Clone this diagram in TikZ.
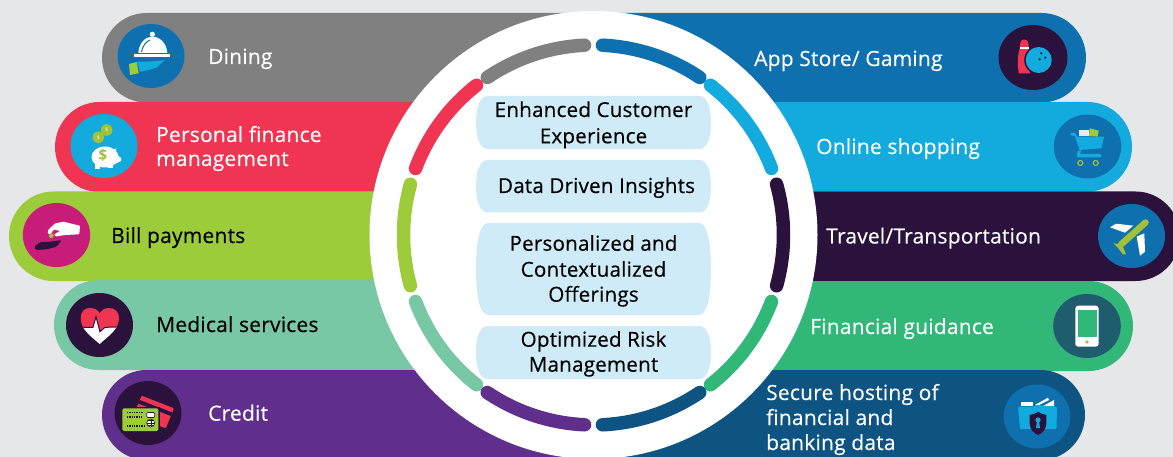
\documentclass[tikz,border=0pt]{standalone}
\usepackage{fontspec}
\setmainfont{Open Sans}
\definecolor{bgc}{HTML}{E6E7E9}
\definecolor{cgray}{HTML}{808080}
\definecolor{cpink}{HTML}{F03552}
\definecolor{clime}{HTML}{9DCC3B}
\definecolor{cteal}{HTML}{78C7A5}
\definecolor{cpurple}{HTML}{602F8C}
\definecolor{cblue}{HTML}{0F70AF}
\definecolor{csky}{HTML}{13ABDE}
\definecolor{cdark}{HTML}{2A123D}
\definecolor{cgreen}{HTML}{31B878}
\definecolor{cnavy}{HTML}{0E5482}
\definecolor{cmag}{HTML}{C91C7A}
\definecolor{cpill}{HTML}{CEEBF7}
\definecolor{cphone}{HTML}{1F5C6E}
\definecolor{colive}{HTML}{A3C03A}
\tikzset{
  lab/.style={anchor=base west,font=\fontsize{21}{24}\selectfont\addfontfeature{LetterSpace=1,FakeBold=0.3},inner sep=0pt},
  mid/.style={anchor=base,font=\fontsize{20.6}{24}\selectfont\addfontfeature{LetterSpace=1,FakeBold=0.3},inner sep=0pt,text=black},
  seg/.style={line width=13.5pt,line cap=round}
}
\newcommand{\leftbar}[4]{\fill[#4] (593,#2) -- (#1+44.5,#2) arc[start angle=90,end angle=270,x radius=44.5,y radius={-(#3-#2)/2}] -- (593,#3) -- cycle;}
\newcommand{\rightbar}[4]{\fill[#4] (593,#2) -- (#1-44.5,#2) arc[start angle=90,end angle=-90,x radius=44.5,y radius={-(#3-#2)/2}] -- (593,#3) -- cycle;}
\newcommand{\pillshape}[2]{\fill[cpill] (488,#1) -- (699,#1) .. controls (707,#1) and (711,{(#1+#2)/2-(#2-#1)*.3}) .. (711,{(#1+#2)/2}) .. controls (711,{(#1+#2)/2+(#2-#1)*.3}) and (707,#2) .. (699,#2) -- (488,#2) .. controls (480,#2) and (476,{(#1+#2)/2+(#2-#1)*.3}) .. (476,{(#1+#2)/2}) .. controls (476,{(#1+#2)/2-(#2-#1)*.3}) and (480,#1) .. (488,#1) -- cycle;}
\newcommand{\ringseg}[3]{\draw[seg,#3] (593.5,235)++(#1:190 and -190) arc[start angle=#1,end angle=#2,x radius=190,y radius=-190];}
\begin{document}
\begin{tikzpicture}[x=1pt,y=-1pt]
\clip (0,0) rectangle (1173,457);
\fill[bgc] (0,0) rectangle (1173,457);
% bars
\leftbar{102}{13}{102.5}{cgray}
\rightbar{1086}{13}{102.5}{cblue}
\leftbar{55}{102}{192}{cpink}
\rightbar{1132}{102}{191.5}{csky}
\leftbar{9}{191.5}{281}{clime}
\rightbar{1180}{191.5}{281}{cdark}
\leftbar{54}{280}{370}{cteal}
\rightbar{1133}{281}{371}{cgreen}
\leftbar{102}{370}{460}{cpurple}
\rightbar{1085}{370}{460}{cnavy}
% centre disc
\fill[white] (593.5,235) circle[radius=224];
% ring segments
\ringseg{92.7}{124}{cgray}
\ringseg{128}{159.5}{cpink}
\ringseg{164.5}{195.5}{clime}
\ringseg{200.5}{232}{cteal}
\ringseg{236}{267.3}{cpurple}
\ringseg{87.3}{56}{cblue}
\ringseg{52}{20.5}{csky}
\ringseg{15.5}{-15.5}{cdark}
\ringseg{-20.5}{-52}{cgreen}
\ringseg{-56}{-87.3}{cnavy}
% pills
\pillshape{96}{149}
\pillshape{160}{212.5}
\pillshape{223}{315}
\pillshape{326}{379}
% centre labels
\node[mid] (m1a) at (593.5,117) {Enhanced Customer};
\node[mid] (m1b) at (593.5,143.3) {Experience};
\node[mid] (m2) at (596.5,193) {Data Driven Insights};
\node[mid] (m3a) at (593.5,250.7) {Personalized and};
\node[mid] (m3b) at (593.5,276.7) {Contextualized};
\node[mid] (m3c) at (593.5,301.7) {Offerings};
\node[mid] (m4a) at (593.5,346.7) {Optimized Risk};
\node[mid] (m4b) at (593.5,371.7) {Management};
% side labels
\node[lab,text=white] (l1) at (208,64) {Dining};
\node[lab,text=white] (l2a) at (156,142) {Personal finance};
\node[lab,text=white] (l2b) at (156,166) {management};
\node[lab,text=black] (l3) at (111,243) {Bill payments};
\node[lab,text=black] (l4) at (156,332) {Medical services};
\node[lab,text=white] (l5) at (208,420.7) {Credit};
\node[lab,text=white] (r1) at (754,66) {App Store/ Gaming};
\node[lab,text=white] (r2) at (816,154) {Online shopping};
\node[lab,text=white] (r3) at (826,243.5) {Travel/Transportation};
\node[lab,text=white] (r4) at (810,334) {Financial guidance};
\node[lab,text=white] (r5a) at (766,400) {Secure hosting of};
\node[lab,text=white] (r5b) at (766,425) {financial and};
\node[lab,text=white] (r5c) at (766,450) {banking data};
% --- icon discs
\fill[cblue] (151,56) ellipse[x radius=33.5,y radius=32];
\fill[csky] (104,146) ellipse[x radius=33.5,y radius=32];
\fill[cmag] (56.5,235) ellipse[x radius=33.7,y radius=32];
\fill[cdark] (99.5,325) ellipse[x radius=33.5,y radius=32];
\fill[cdark] (148,413) ellipse[x radius=33.5,y radius=32];
\fill[cdark] (1033,57.5) ellipse[x radius=34.5,y radius=32.5];
\fill[cblue] (1087.5,146.5) ellipse[x radius=33.7,y radius=32];
\fill[cblue] (1131.5,236) ellipse[x radius=33.5,y radius=32];
\fill[cphone] (1087,326) ellipse[x radius=33.8,y radius=32];
\fill[cblue] (1037,416.5) ellipse[x radius=33.3,y radius=32];
% dining
\fill[white] (138.3,53) .. controls (139,43) and (145,37) .. (152.3,36.5) .. controls (160,37) and (166.5,43) .. (167.3,53) -- cycle;
\fill[white] (152.3,34.3) circle[radius=2.6];
\draw[cblue,line width=1pt] (141.5,52) .. controls (142.5,46) and (146,41.5) .. (150,40);
\fill[white] (134,54.3) rectangle (170,57.4);
\fill[csky] (137,61.7) -- (150,61.5) -- (164.5,60.3) -- (157,67.5) -- (149,70) -- (140,71.7) -- cycle;
\fill[clime] (129,64) -- (136.7,62) -- (138.7,73.3) -- (130,75) -- cycle;
% piggy
\fill[colive] (106.7,130) circle[radius=5.8];
\fill[colive] (98.3,137.3) circle[radius=5.8];
\node[text=white,inner sep=0pt,font=\fontsize{5}{5}\selectfont] (c1) at (106.7,130) {\$};
\node[text=white,inner sep=0pt,font=\fontsize{5}{5}\selectfont] (c2) at (98.3,137.3) {\$};
\fill[white] (105,157) ellipse[x radius=13.5,y radius=10.5];
\fill[white] (112,151) -- (116,148.5) -- (116,154) -- (121,158) -- (121,161) -- (115,164) -- cycle;
\fill[white] (95,163) rectangle (100,169);
\fill[white] (108,163) rectangle (113,168);
\node[text=colive,inner sep=0pt,font=\fontsize{15}{15}\selectfont\bfseries] (c3) at (103,155.5) {\$};
% bill hands
\fill[white,rounded corners=.8pt] (80,225.7) -- (79.3,234.3) -- (65,235) -- (56,236.5) -- (54,234.5) -- (60,231) -- (54,229.5) -- (50,234.5) -- (47.5,233) -- (48.5,229.5) -- (55,223.5) -- (63.3,221.7) -- cycle;
\fill[colive] (51.3,235.7) circle[radius=2.5];
\fill[cdark,rounded corners=1.5pt] (34,246.7) -- (40,242.3) -- (50,241.7) -- (61.7,240) -- (56.7,246.7) -- (46.7,249.3) -- (36,250) -- cycle;
% heart
\begin{scope}
\clip (99.7,344) .. controls (92,337) and (80.7,330) .. (80.7,318) .. controls (80.7,311) and (85,308) .. (90,308) .. controls (94.5,308) and (98,310) .. (99.7,313.5) .. controls (101.5,310) and (105,308) .. (109,308) .. controls (115,308) and (119,312) .. (119,318) .. controls (119,330) and (107,337) .. (99.7,344) -- cycle;
\fill[cpink] (75,300) rectangle (125,330);
\fill[white] (75,327.3) -- (93,327.3) -- (96,316.7) -- (100,331.7) -- (105,327.3) -- (125,327) -- (125,350) -- (75,350) -- cycle;
\draw[cdark,line width=1pt] (75,327.3) -- (93,327.3) -- (96,316.7) -- (100,331.7) -- (105,327.3) -- (125,327);
\end{scope}
% credit cards
\fill[cpink,rounded corners=1pt] (141.7,395.7) -- (174,408.3) -- (165.7,428.3) -- (133.3,415.7) -- cycle;
\fill[cdark] (139.7,400) -- (172.5,412.5) -- (171,416) -- (138.2,403.5) -- cycle;
\fill[cdark] (120.5,406.5) rectangle (160,433);
\fill[clime,rounded corners=1.5pt] (122.3,408.3) rectangle (158.3,431);
\draw[cdark,line width=1.2pt,dash pattern=on 1pt off .7pt] (127,412.7) -- (144,412.7) (127,417) -- (142,417) (127,426) -- (145,426);
\fill[white,draw=cdark,line width=.6pt,rounded corners=1pt] (146.7,412.5) rectangle (154.7,417.5);
\fill[white,draw=cdark,line width=.6pt] (150.7,423) circle[radius=4];
\draw[cdark,line width=.4pt] (146.7,423) -- (154.7,423) (150.7,419) -- (150.7,427) (148,420.5) -- (153.5,420.5) (148,425.5) -- (153.5,425.5);
% bowling
\fill[cpink] (1024,39.3) .. controls (1027,39.3) and (1028.5,41.5) .. (1028.5,45) .. controls (1028.5,50) and (1030,53) .. (1030,57) -- (1030,73.5) -- (1019,73.5) .. controls (1017,65) and (1017.5,55) .. (1019.7,49) .. controls (1020,45) and (1020,39.3) .. (1024,39.3) -- cycle;
\fill[white] (1019.5,47.5) rectangle (1028.5,49);
\fill[cdark] (1038.7,60) circle[radius=14.5];
\fill[csky] (1038.7,60) circle[radius=13];
\fill[cdark] (1041.3,53.3) circle[radius=1.2] (1039.7,59.3) circle[radius=1.2] (1045.3,57.7) circle[radius=1.2];
% cart
\fill[white!92!black] (1079,130.5) rectangle (1089,136);
\fill[clime] (1089.7,128.3) -- (1098.7,130.7) -- (1097.7,136.7) -- (1089,136) -- cycle;
\fill[csky] (1070.7,133) -- (1075,133) -- (1077,136.5) -- (1104,136.7) -- (1101.5,148.3) -- (1079.5,150) -- (1075,136) -- (1070.7,135) -- cycle;
\fill[csky,rounded corners=1pt] (1079.5,150) -- (1082,151) -- (1079,154) -- (1101,154) -- (1101,157.5) -- (1077,157.5) -- (1077,152) -- cycle;
\draw[colive,line width=1.2pt] (1080.3,163) circle[radius=2.5] (1095.7,163) circle[radius=2.5];
% plane
\fill[white] (1110,227.3) -- (1116,223.7) -- (1133.3,225.7) -- (1125,232.7) -- cycle;
\fill[white] (1136.7,236.7) -- (1144.3,233.3) -- (1145,251.7) -- (1140,255.7) -- cycle;
\draw[colive,line width=6.5pt,line cap=round] (1145.5,222.5) -- (1121,244.5);
\fill[colive] (1113.3,243.3) -- (1122,244.5) -- (1126,254.3) -- (1122.7,254.3) -- (1118.3,248.3) -- cycle;
% phone
\fill[white,rounded corners=3pt] (1075.3,305.7) rectangle (1098.7,346.7);
\fill[cgreen] (1078,310) rectangle (1097.3,337.3);
\fill[colive] (1087,342) circle[radius=1.8];
% shield folder
\fill[white] (1021.3,401.7) -- (1033,401.7) -- (1033,406) -- (1021.3,406) -- cycle;
\fill[white] (1035,405) -- (1048,397.7) -- (1049,400) -- (1037,406) -- cycle;
\fill[white] (1043,406) -- (1054,400) -- (1054,406) -- cycle;
\fill[csky,rounded corners=1pt] (1018,406.7) -- (1034,406.7) -- (1036,405) -- (1057,406.7) -- (1056.5,429) -- (1020,429) -- cycle;
\fill[cdark] (1038,411.7) .. controls (1042,414.5) and (1045,414.5) .. (1046.3,415) -- (1046.3,424) .. controls (1046,430) and (1042,433) .. (1038,435) .. controls (1034,433) and (1030,430) .. (1029.7,424) -- (1029.7,415) .. controls (1032,414.5) and (1035,414) .. (1038,411.7) -- cycle;
\fill[csky] (1038,420) circle[radius=2.6];
\fill[csky] (1037,421) -- (1039,421) -- (1040,428) -- (1036,428) -- cycle;
\end{tikzpicture}
\end{document}
